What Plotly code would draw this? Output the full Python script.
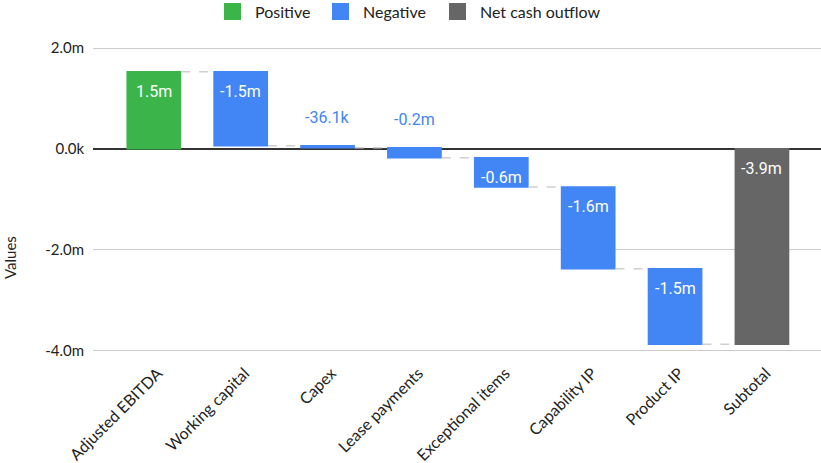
import plotly.graph_objects as go

categories = ["Adjusted EBITDA", "Working capital", "Capex", "Lease payments",
              "Exceptional items", "Capability IP", "Product IP", "Subtotal"]
# values in millions
deltas = [1.53, -1.47, -0.0361, -0.20, -0.58, -1.62, -1.50]
measures = ["relative"] * 7 + ["total"]
ytick_vals = [-4, -2, 0, 2]
ytick_text = ["-4.0m", "-2.0m", "0.0k", "2.0m"]
legend_names = ["Positive", "Negative", "Net cash outflow"]

GREEN = "#3BB44A"
BLUE = "#4285F4"
GRAY = "#666666"
TEXT = "#222222"

W, H = 821, 463
ML, MR, MT, MB = 93, 0, 40, 103
PW, PH = W - ML - MR, H - MT - MB


def px_x(px):
    return (px - ML) / PW


def px_y(py):
    return (H - MB - py) / PH


def fmt(v):
    if abs(v) >= 0.1:
        return f"{v:.1f}m"
    return f"{v*1000:.1f}k"


fig = go.Figure()
fig.add_trace(go.Waterfall(
    x=categories,
    y=deltas + [0],
    measure=measures,
    width=0.63,
    increasing=dict(marker=dict(color=GREEN)),
    decreasing=dict(marker=dict(color=BLUE)),
    totals=dict(marker=dict(color=GRAY)),
    connector=dict(line=dict(color="#CFCFCF", width=1.5, dash="dash")),
    showlegend=False,
    hoverinfo="skip",
))

# bar value labels
cum = 0.0
annotations = []
for i, cat in enumerate(categories):
    if measures[i] == "total":
        start, end, v = 0.0, cum, cum
    else:
        v = deltas[i]
        start, end = cum, cum + v
        cum = end
    top = max(start, end)
    if abs(v) < 0.3:
        annotations.append(dict(x=cat, y=top, xref="x", yref="y", text=fmt(v),
                                showarrow=False, yshift=28,
                                font=dict(family="Roboto", size=16, color=BLUE)))
    else:
        annotations.append(dict(x=cat, y=top, xref="x", yref="y", text=fmt(v),
                                showarrow=False, yshift=-20,
                                font=dict(family="Roboto", size=16, color="white")))

# y axis title
annotations.append(dict(x=px_x(10), y=px_y(258), xref="paper", yref="paper", text="Values",
                        textangle=-90, showarrow=False, xanchor="center", yanchor="middle",
                        font=dict(family="Lato", size=15, color=TEXT)))

# legend (drawn manually for exact square size / spacing)
shapes = []
sq_left = [224, 332, 449]
txt_left = [253, 361, 478]
for name, col, sx, tx in zip(legend_names, [GREEN, BLUE, GRAY], sq_left, txt_left):
    shapes.append(dict(type="rect", xref="paper", yref="paper",
                       x0=px_x(sx), x1=px_x(sx + 17), y0=px_y(20), y1=px_y(3),
                       fillcolor=col, line=dict(width=0)))
    annotations.append(dict(x=px_x(tx), y=px_y(11.5), xref="paper", yref="paper",
                            text=name, showarrow=False, xanchor="left", yanchor="middle",
                            font=dict(family="Lato", size=16, color=TEXT)))

fig.update_layout(
    width=W, height=H,
    margin=dict(l=ML, r=MR, t=MT, b=MB),
    plot_bgcolor="white", paper_bgcolor="white",
    font=dict(family="Lato", size=15, color=TEXT),
    showlegend=False,
    annotations=annotations,
    shapes=shapes,
    xaxis=dict(type="category", categoryorder="array", categoryarray=categories,
               range=[-0.70, 7.68], tickangle=-45, showgrid=False, showline=False,
               ticks="", ticklabelshift=4,
               tickfont=dict(family="Lato", size=16, color=TEXT)),
    yaxis=dict(range=[-4.188, 2.159], tickvals=ytick_vals, ticktext=ytick_text,
               showgrid=True, gridcolor="#CCCCCC", gridwidth=1,
               zeroline=True, zerolinecolor="#333333", zerolinewidth=1.5,
               ticks="", ticklabelstandoff=8,
               tickfont=dict(family="Lato", size=15, color=TEXT)),
)

fig.write_html("out.html")
